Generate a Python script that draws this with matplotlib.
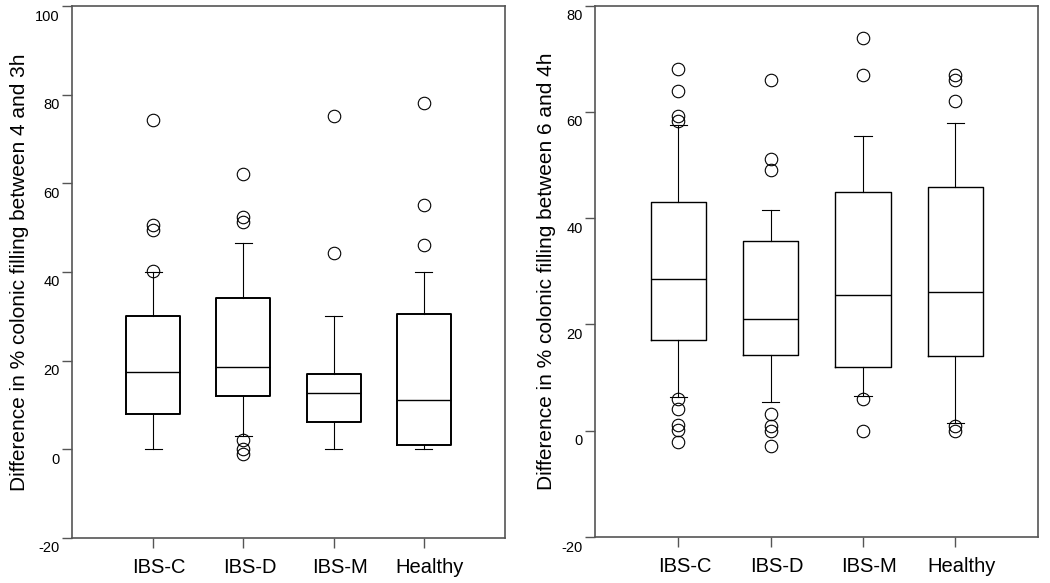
import numpy as np
import matplotlib.pyplot as plt
from matplotlib.transforms import ScaledTranslation

plt.rcParams.update({"font.family": "Liberation Sans", "font.size": 10,
                     "axes.unicode_minus": False})

groups = ['IBS-C', 'IBS-D', 'IBS-M', 'Healthy']

# panel 1: difference between 4 and 3h
q1_a = [8.0, 12.1, 6.1, 0.9]
med_a = [17.5, 18.5, 12.6, 11.1]
q3_a = [30.1, 34.1, 17.1, 30.5]
lo_a = [0.0, 3.0, 0.0, 0.0]
hi_a = [40.0, 46.6, 30.0, 40.0]
out_a = [[40.3, 49.5, 50.5, 74.3],
         [62.2, 52.4, 51.2, 2.2, 0.0, -1.1],
         [44.2, 75.2],
         [46.1, 55.2, 78.1]]

# panel 2: difference between 6 and 4h
q1_b = [17.0, 14.3, 12.0, 14.0]
med_b = [28.5, 21.0, 25.5, 26.1]
q3_b = [43.0, 35.7, 44.9, 45.9]
lo_b = [6.3, 5.5, 6.5, 1.5]
hi_b = [57.6, 41.5, 55.5, 57.9]
out_b = [[68.0, 64.0, 59.3, 58.3, 6.0, 4.1, 1.1, 0.1, -2.1],
         [66.0, 51.1, 49.1, 3.1, 0.9, 0.0, -2.9],
         [73.9, 66.9, 6.0, 0.0],
         [66.9, 66.0, 62.0, 0.9, 0.0]]

fig = plt.figure(figsize=(10.5, 5.83), dpi=100)
ax1 = fig.add_axes([0.0686, 0.0772, 0.4124, 0.9125])
ax2 = fig.add_axes([0.567, 0.0789, 0.4219, 0.9113])


def draw(ax, q1, med, q3, lo, hi, out, ylim, ylabel, boxlw):
    stats = []
    for i in range(len(groups)):
        stats.append({'q1': q1[i], 'med': med[i], 'q3': q3[i],
                      'whislo': lo[i], 'whishi': hi[i], 'fliers': out[i]})
    ax.bxp(stats, positions=[1, 2, 3, 4], widths=0.6, capwidths=0.19,
           boxprops=dict(color='black', linewidth=boxlw),
           medianprops=dict(color='black', linewidth=1.0),
           whiskerprops=dict(color='black', linewidth=0.8),
           capprops=dict(color='black', linewidth=0.8),
           flierprops=dict(marker='o', markerfacecolor='none',
                           markeredgecolor='black', markersize=9,
                           markeredgewidth=0.8))
    ax.set_xlim(0.1, 4.9)
    ax.set_ylim(ylim)
    ax.set_yticks(np.arange(ylim[0], ylim[1] + 1, 20))
    ax.set_xticks([1, 2, 3, 4])
    ax.set_xticklabels(groups, fontsize=14.5)
    ax.set_ylabel(ylabel, fontsize=15, labelpad=4)
    for s in ax.spines.values():
        s.set_color('#555555')
        s.set_linewidth(1.2)
    ax.tick_params(axis='y', length=7, width=1, color='#555555', pad=2, labelsize=10.5)
    ax.tick_params(axis='x', length=7.5, width=1, color='#555555', pad=7)
    for lab in ax.get_yticklabels():
        lab.set_transform(lab.get_transform() + ScaledTranslation(0, -0.09, fig.dpi_scale_trans))
    for lab in ax.get_xticklabels():
        lab.set_transform(lab.get_transform() + ScaledTranslation(0.06, 0, fig.dpi_scale_trans))


draw(ax1, q1_a, med_a, q3_a, lo_a, hi_a, out_a, (-20, 100),
     'Difference in % colonic filling between 4 and 3h', 1.4)
draw(ax2, q1_b, med_b, q3_b, lo_b, hi_b, out_b, (-20, 80),
     'Difference in % colonic filling between 6 and 4h', 1.0)

plt.savefig('out.png', dpi=100)
